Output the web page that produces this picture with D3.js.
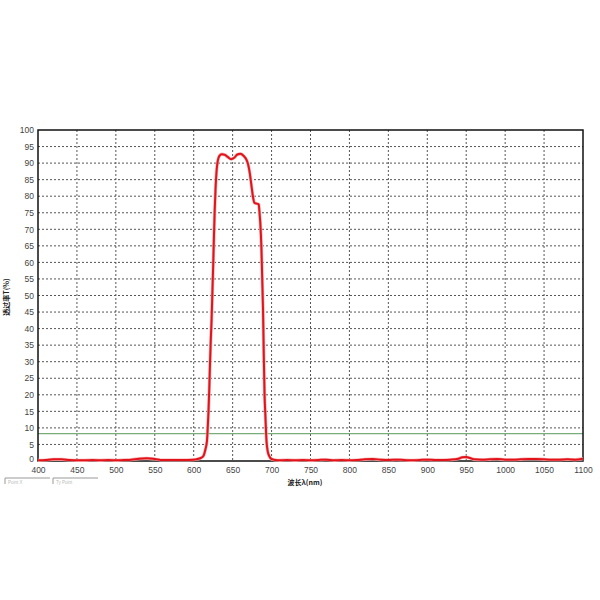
<!DOCTYPE html>
<html>
<head>
<meta charset="utf-8">
<script src="https://cdn.jsdelivr.net/npm/d3@7"></script>
<style>
  body { margin: 0; background: #fff; }
  svg { display: block; }
  .tick text { font-family: "Liberation Sans", Arial, sans-serif; font-size: 8.5px; fill: #444; }
</style>
</head>
<body>
<svg id="chart" width="600" height="600"></svg>
<script>
'use strict';

// wavelength (nm) and transmission T (%)
var wavelength = [400, 410, 420, 430, 440, 450, 460, 470, 480, 490, 500, 510, 520, 530, 540, 550, 560, 570, 580, 590,
    600, 605, 610, 613, 615, 617, 618, 619, 620, 621, 622, 623, 624, 625, 626, 627, 628, 629.5, 631, 633, 636,
    640, 644, 648, 652, 656, 660, 664, 668, 670, 672, 674, 676, 678, 680, 682, 683.5, 684.5, 685.5, 687, 688,
    689, 690, 691, 692, 693.5, 695, 697, 700, 705, 710, 720, 730, 740, 750, 760, 770, 780, 790, 800, 810, 820,
    830, 840, 850, 860, 870, 880, 890, 900, 910, 920, 930, 940, 945, 950, 955, 960, 970, 980, 990, 1000, 1010,
    1020, 1030, 1040, 1050, 1060, 1070, 1080, 1090, 1100];
var transmission = [0.2, 0.3, 0.5, 0.5, 0.3, 0.2, 0.2, 0.3, 0.2, 0.3, 0.2, 0.3, 0.4, 0.7, 0.8, 0.6, 0.3, 0.3, 0.3, 0.3,
    0.4, 0.6, 1.0, 1.8, 3.5, 6, 10, 15, 22, 30, 37, 43, 51, 59, 68, 76, 82, 88, 90.8, 92.2, 92.7,
    92.5, 91.8, 91.2, 91.6, 92.6, 92.8, 92.2, 90.9, 89.5, 87, 83.5, 80, 78, 77.8, 77.7, 77.5, 75, 72, 64, 55,
    46, 32, 20, 14, 6, 3, 1.5, 0.6, 0.3, 0.2, 0.3, 0.2, 0.3, 0.2, 0.3, 0.4, 0.2, 0.3, 0.2, 0.3, 0.5,
    0.6, 0.4, 0.3, 0.4, 0.3, 0.2, 0.3, 0.4, 0.3, 0.3, 0.4, 0.7, 1.1, 1.2, 0.9, 0.5, 0.4, 0.5, 0.6, 0.4, 0.4,
    0.5, 0.6, 0.6, 0.5, 0.4, 0.4, 0.5, 0.4, 0.7];
var xTicks = d3.range(400, 1101, 50);
var yTicks = d3.range(0, 101, 5);
var limitLine = [8.3];
var tabLabels = ['Point X', 'Ty  Point'];

var svg = d3.select('#chart');
var margin = {l: 38, r: 17, t: 130, b: 139},
    width = 600 - margin.l - margin.r,
    height = 600 - margin.t - margin.b;

var x = d3.scaleLinear().domain([400, 1100]).range([0, width]);
var y = d3.scaleLinear().domain([0, 100]).range([height, 0]);

var g = svg.append('g').attr('transform', 'translate(' + margin.l + ',' + margin.t + ')');

// dotted grid
g.append('g').selectAll('line.vgrid')
    .data(xTicks.slice(1, -1))
    .enter().append('line')
    .attr('x1', function(d) { return x(d); })
    .attr('x2', function(d) { return x(d); })
    .attr('y1', 0).attr('y2', height)
    .attr('stroke', '#555').attr('stroke-width', 1)
    .attr('stroke-dasharray', '2,2');

g.append('g').selectAll('line.hgrid')
    .data(yTicks.slice(1, -1))
    .enter().append('line')
    .attr('y1', function(d) { return y(d); })
    .attr('y2', function(d) { return y(d); })
    .attr('x1', 0).attr('x2', width)
    .attr('stroke', '#555').attr('stroke-width', 1)
    .attr('stroke-dasharray', '2,2');

// axes
var xAxis = g.append('g')
    .attr('transform', 'translate(0,' + height + ')')
    .call(d3.axisBottom(x).tickValues(xTicks).tickFormat(d3.format('d')).tickSize(0).tickPadding(6));
xAxis.select('.domain').remove();

var yAxis = g.append('g')
    .call(d3.axisLeft(y).tickValues(yTicks).tickFormat(d3.format('d')).tickSize(0).tickPadding(4));
yAxis.select('.domain').remove();
// lift the zero label a touch so it clears the first x label
yAxis.selectAll('.tick text').filter(function(d) { return d === 0; }).attr('dy', '0.1em');

// green limit line
g.selectAll('line.limit')
    .data(limitLine)
    .enter().append('line')
    .attr('x1', 0).attr('x2', width)
    .attr('y1', function(d) { return y(d); })
    .attr('y2', function(d) { return y(d); })
    .attr('stroke', '#79ad79').attr('stroke-width', 1.2);

// frame
g.append('rect')
    .attr('x', 0).attr('y', 0)
    .attr('width', width).attr('height', height)
    .attr('fill', 'none').attr('stroke', '#111').attr('stroke-width', 1.5);

// spectrum
var pts = wavelength.map(function(w, i) { return [w, transmission[i]]; });
var line = d3.line()
    .x(function(d) { return x(d[0]); })
    .y(function(d) { return y(d[1]); })
    .curve(d3.curveMonotoneX);

g.append('path')
    .datum(pts)
    .attr('d', line)
    .attr('fill', 'none')
    .attr('stroke', '#f4b0b0').attr('stroke-width', 3.2)
    .attr('stroke-linejoin', 'round');
g.append('path')
    .datum(pts)
    .attr('d', line)
    .attr('fill', 'none')
    .attr('stroke', '#e3131b').attr('stroke-width', 2)
    .attr('stroke-linejoin', 'round');

// axis titles
svg.append('text')
    .attr('transform', 'translate(9,297) rotate(-90)')
    .attr('text-anchor', 'middle')
    .style('font-family', '"Noto Sans CJK SC", sans-serif')
    .style('font-size', '7px').style('font-weight', 'bold')
    .style('fill', '#222')
    .text('透过率T(%)');

svg.append('text')
    .attr('x', 305).attr('y', 485)
    .attr('text-anchor', 'middle')
    .style('font-family', '"Noto Sans CJK SC", sans-serif')
    .style('font-size', '7px').style('font-weight', 'bold')
    .style('fill', '#222')
    .text('波长λ(nm)');

// faded tabs at bottom left
var tabs = svg.append('g').selectAll('g.tab')
    .data(tabLabels)
    .enter().append('g')
    .attr('transform', function(d, i) { return 'translate(' + (5 + i * 48) + ',478)'; });
tabs.append('path')
    .attr('d', 'M0,6V0H45')
    .attr('fill', 'none').attr('stroke', '#999').attr('stroke-width', 1);
tabs.append('text')
    .attr('x', 3).attr('y', 6)
    .style('font-family', '"Liberation Sans", Arial, sans-serif')
    .style('font-size', '4.5px').style('fill', '#bbb')
    .text(function(d) { return d; });
</script>
</body>
</html>
